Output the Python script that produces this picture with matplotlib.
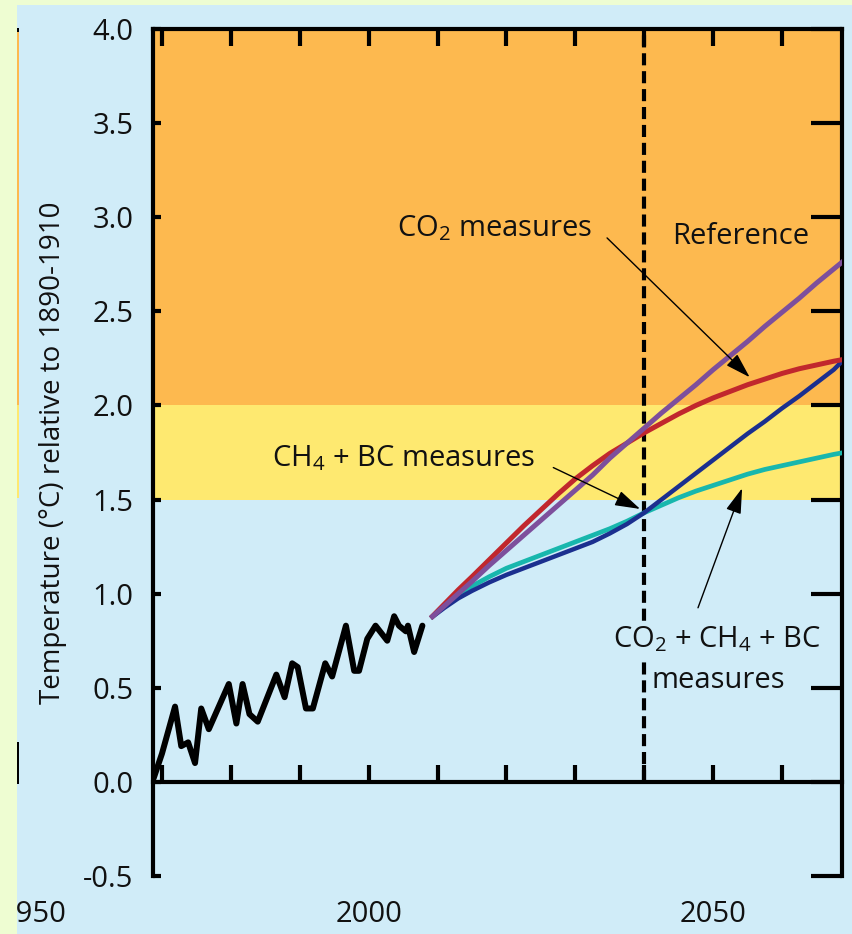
import matplotlib
matplotlib.use("Agg")
import matplotlib.pyplot as plt
from matplotlib.patches import Rectangle
from matplotlib.ticker import FuncFormatter, FixedLocator

plt.rcParams['font.family'] = ['Open Sans', 'DejaVu Sans']
plt.rcParams['mathtext.fontset'] = 'custom'
plt.rcParams['mathtext.rm'] = 'Open Sans'
plt.rcParams['mathtext.it'] = 'Open Sans'
plt.rcParams['mathtext.bf'] = 'Open Sans'

# ---------------- data ----------------
hist_years = [1968.8, 1970.0, 1971.9, 1972.8, 1973.8, 1974.8, 1975.7, 1976.8,
              1979.7, 1980.8, 1981.7, 1982.7, 1983.9, 1986.6, 1987.8, 1988.9,
              1989.7, 1990.9, 1991.9, 1993.7, 1994.7, 1996.7, 1997.9, 1998.6,
              1999.8, 2001.0, 2002.7, 2003.7, 2004.4, 2005.4, 2005.7, 2006.6, 2007.8]
hist_temp = [0.02, 0.15, 0.40, 0.19, 0.21, 0.10, 0.39, 0.28,
             0.52, 0.31, 0.52, 0.36, 0.32, 0.57, 0.45, 0.63,
             0.61, 0.39, 0.39, 0.63, 0.56, 0.83, 0.59, 0.59,
             0.76, 0.83, 0.75, 0.88, 0.83, 0.80, 0.83, 0.69, 0.83]

proj_years = [2009, 2011, 2013, 2015, 2017.5, 2020, 2022.5, 2025, 2027.5, 2030,
              2032.5, 2035, 2037.5, 2040, 2042.5, 2045, 2047.5, 2050, 2052.5, 2055,
              2057.5, 2060, 2062.5, 2065, 2067.5, 2069]
reference = [0.87, 0.935, 1.00, 1.065, 1.15, 1.23, 1.31, 1.39, 1.47, 1.55,
             1.63, 1.72, 1.80, 1.88, 1.96, 2.035, 2.11, 2.19, 2.265, 2.34,
             2.42, 2.495, 2.57, 2.65, 2.725, 2.77]
co2_measures = [0.87, 0.945, 1.02, 1.09, 1.18, 1.27, 1.36, 1.445, 1.53, 1.61,
                1.68, 1.745, 1.80, 1.855, 1.905, 1.955, 2.00, 2.04, 2.075, 2.11,
                2.14, 2.17, 2.195, 2.215, 2.235, 2.245]
ch4_bc_measures = [0.87, 0.935, 0.99, 1.04, 1.09, 1.135, 1.17, 1.205, 1.24, 1.275,
                   1.31, 1.345, 1.385, 1.43, 1.47, 1.51, 1.545, 1.575, 1.605, 1.635,
                   1.66, 1.68, 1.70, 1.72, 1.74, 1.75]
all_measures = [0.87, 0.925, 0.975, 1.015, 1.06, 1.10, 1.135, 1.17, 1.205, 1.24,
                1.275, 1.32, 1.37, 1.43, 1.50, 1.57, 1.64, 1.71, 1.78, 1.85,
                1.915, 1.985, 2.05, 2.12, 2.19, 2.245]

decade_ticks = [1970, 1980, 1990, 2000, 2010, 2020, 2030, 2040, 2050, 2060]
y_ticks = [-0.5, 0.0, 0.5, 1.0, 1.5, 2.0, 2.5, 3.0, 3.5, 4.0]
band_edges = [1.5, 2.0, 4.0]
target_year = 2040

# ---------------- colours ----------------
BG = '#eefdd2'
BLUE_BG = '#d0ecf8'
ORANGE = '#fdb94f'
YELLOW = '#fee970'
C_REF = '#7d4f9c'
C_CO2 = '#c1272d'
C_CH4 = '#18b7ad'
C_ALL = '#1b2f8f'

W, H = 852, 934
fig = plt.figure(figsize=(W / 100, H / 100), dpi=100, facecolor=BG)

# light-blue panel
fig.patches.append(Rectangle((17 / W, 0), 1 - 17 / W, (H - 5) / H,
                             transform=fig.transFigure, facecolor=BLUE_BG,
                             edgecolor='none', zorder=-5))

ax_l, ax_r, ax_t, ax_b = 153, 842, 29, 876
ax = fig.add_axes([ax_l / W, (H - ax_b) / H, (ax_r - ax_l) / W, (ax_b - ax_t) / H])
ax.set_facecolor(BLUE_BG)
ax.set_xlim(1968.7, 2068.7)
ax.set_ylim(-0.5, 4.0)

ax.axhspan(band_edges[1], band_edges[2], color=ORANGE, lw=0, zorder=0)
ax.axhspan(band_edges[0], band_edges[1], color=YELLOW, lw=0, zorder=0)

# spines
for s in ['left', 'top']:
    ax.spines[s].set_linewidth(3)
ax.spines['bottom'].set_visible(False)
ax.spines['right'].set_visible(False)

XPAD = 17
# x axis: labels at bottom, decade ticks at top
ax.xaxis.set_major_locator(FixedLocator(decade_ticks))
ax.xaxis.set_major_formatter(FuncFormatter(lambda v, p: f"{v:.0f}" if v % 50 == 0 else ""))
ax.tick_params(axis='x', top=True, bottom=False, direction='in', length=12, width=3,
               labelsize=21, pad=XPAD, labelcolor='#111111')
ax.set_yticks(y_ticks)
ax.yaxis.set_major_formatter(FuncFormatter(lambda v, p: f"{v:.1f}"))
ax.tick_params(axis='y', left=True, right=False, direction='in', length=6, width=3,
               labelsize=21, pad=14, labelcolor='#111111')

# 1950 label (outside the visible axis range, cut by the panel edge)
pad_px = XPAD * 100 / 72
ax.text(1951.3, -pad_px / (ax_b - ax_t), "1950", transform=ax.get_xaxis_transform(),
        ha='center', va='top', fontsize=21, color='#111111', clip_on=False)

# zero line with decade ticks
sec = ax.secondary_xaxis(0.5 / 4.5)
sec.spines['bottom'].set_linewidth(3)
sec.set_xticks(decade_ticks)
sec.tick_params(axis='x', direction='in', length=12, width=3, labelbottom=False)
sec.set_xticklabels([])

# right spine with long ticks
secy = ax.secondary_yaxis('right')
secy.spines['right'].set_linewidth(3)
secy.set_yticks(y_ticks)
secy.tick_params(axis='y', direction='in', length=22, width=3, labelright=False)
secy.set_yticklabels([])

ax.set_ylabel("Temperature (°C) relative to 1890-1910", fontsize=20, labelpad=12,
              color='#111111')

# dashed target year line
ax.vlines(target_year, 0, 4.0, colors='black', lw=3, linestyles=(0, (2.9, 1.4)), zorder=2)

# data lines
ax.plot(hist_years, hist_temp, color='black', lw=4.3, solid_joinstyle='round',
        solid_capstyle='round', zorder=4)
ax.plot(proj_years, ch4_bc_measures, color=C_CH4, lw=3.4, solid_capstyle='butt', zorder=4)
ax.plot(proj_years, all_measures, color=C_ALL, lw=3.2, solid_capstyle='butt', zorder=5)
ax.plot(proj_years, co2_measures, color=C_CO2, lw=3.6, solid_capstyle='butt', zorder=5)
ax.plot(proj_years, reference, color=C_REF, lw=3.6, solid_capstyle='butt', zorder=6)

# annotations
arrow = dict(arrowstyle='-|>,head_length=0.65,head_width=0.2', lw=1.0, color='black',
             mutation_scale=24, shrinkA=0, shrinkB=0)
tc = '#111111'
ax.text(2018.3, 2.94, "CO$_2$ measures", fontsize=21, ha='center', va='center', color=tc, zorder=7)
ax.annotate("", xy=(2055.3, 2.15), xytext=(2034.6, 2.89), arrowprops=arrow, zorder=7)
ax.text(2054.0, 2.90, "Reference", fontsize=21, ha='center', va='center', color=tc, zorder=7)
ax.text(2005.1, 1.72, "CH$_4$ + BC measures", fontsize=21, ha='center', va='center', color=tc, zorder=7)
ax.annotate("", xy=(2039.4, 1.45), xytext=(2026.8, 1.67), arrowprops=arrow, zorder=7)
ax.text(2050.6, 0.755, "CO$_2$ + CH$_4$ + BC", fontsize=21, ha='center', va='center', color=tc,
        zorder=7, bbox=dict(facecolor=BLUE_BG, edgecolor='none', pad=2))
ax.text(2050.7, 0.54, "measures", fontsize=21, ha='center', va='center', color=tc, zorder=7)
ax.annotate("", xy=(2054.2, 1.56), xytext=(2047.8, 0.925), arrowprops=arrow, zorder=7)

# left margin strip (covers the clipped part of the 1950 label) and remnants
fig.patches.append(Rectangle((0, 0), 17 / W, 1, transform=fig.transFigure,
                             facecolor=BG, edgecolor='none', zorder=10))
fig.patches.append(Rectangle((17 / W, (H - 405) / H), 1.5 / W, 376 / H, transform=fig.transFigure,
                             facecolor=ORANGE, edgecolor='none', zorder=10))
fig.patches.append(Rectangle((17 / W, (H - 498) / H), 1.5 / W, 93 / H, transform=fig.transFigure,
                             facecolor=YELLOW, edgecolor='none', zorder=10))
fig.patches.append(Rectangle((17 / W, (H - 784) / H), 2 / W, 42 / H, transform=fig.transFigure,
                             facecolor='black', edgecolor='none', zorder=10))
fig.patches.append(Rectangle((17 / W, (H - 32) / H), 2 / W, 4 / H, transform=fig.transFigure,
                             facecolor='black', edgecolor='none', zorder=10))

fig.savefig("out.png", dpi=100, facecolor=BG)
